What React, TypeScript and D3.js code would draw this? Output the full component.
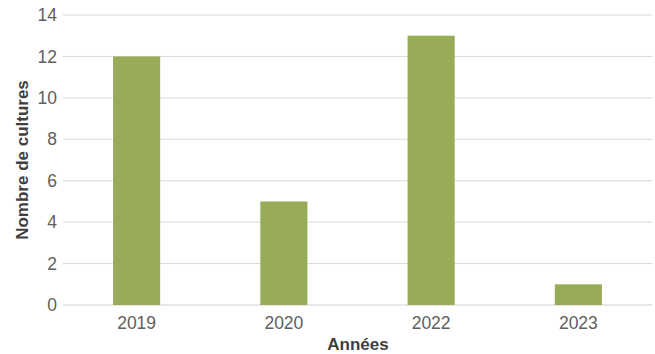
import React from "react";
import * as d3 from "d3";

const categories = ["2019", "2020", "2022", "2023"];
const values = [12, 5, 13, 1];
const yTicks = [0, 2, 4, 6, 8, 10, 12, 14];

export default function App() {
  const W = 655, H = 354;
  const left = 63, right = 652, top = 15, bottom = 305;
  const x = d3.scaleBand<string>().domain(categories).range([left, right]).padding(0);
  const y = d3.scaleLinear().domain([0, 14]).range([bottom, top]);
  const bw = x.bandwidth() * 0.32;
  const font = "'Liberation Sans', Arial, sans-serif";
  return (
    <svg width={W} height={H} style={{ position: "absolute", left: 0, top: 0 }}>
      <rect width={W} height={H} fill="#fff" />
      {yTicks.map((t) => (
        <g key={t}>
          <line x1={left} x2={right} y1={y(t)} y2={y(t)} stroke={t === 0 ? "#d0d0d0" : "#d9d9d9"} strokeWidth={1} />
          <text x={57} y={y(t)} dy="0.35em" textAnchor="end" fontSize={17.5} fill="#606060" fontFamily={font}>{t}</text>
        </g>
      ))}
      {categories.map((c, i) => (
        <rect key={c} x={x(c)! + x.bandwidth() / 2 - bw / 2} y={y(values[i])} width={bw} height={y(0) - y(values[i])} fill="#97ab59" />
      ))}
      {categories.map((c) => (
        <text key={c} x={x(c)! + x.bandwidth() / 2} y={329} textAnchor="middle" fontSize={17.5} fill="#606060" fontFamily={font}>{c}</text>
      ))}
      <text x={358} y={350} textAnchor="middle" fontSize={17} fontWeight="bold" fill="#404040" fontFamily={font}>Années</text>
      <text transform={`translate(28, 160) rotate(-90)`} textAnchor="middle" fontSize={17} fontWeight="bold" fill="#404040" fontFamily={font}>Nombre de cultures</text>
    </svg>
  );
}
